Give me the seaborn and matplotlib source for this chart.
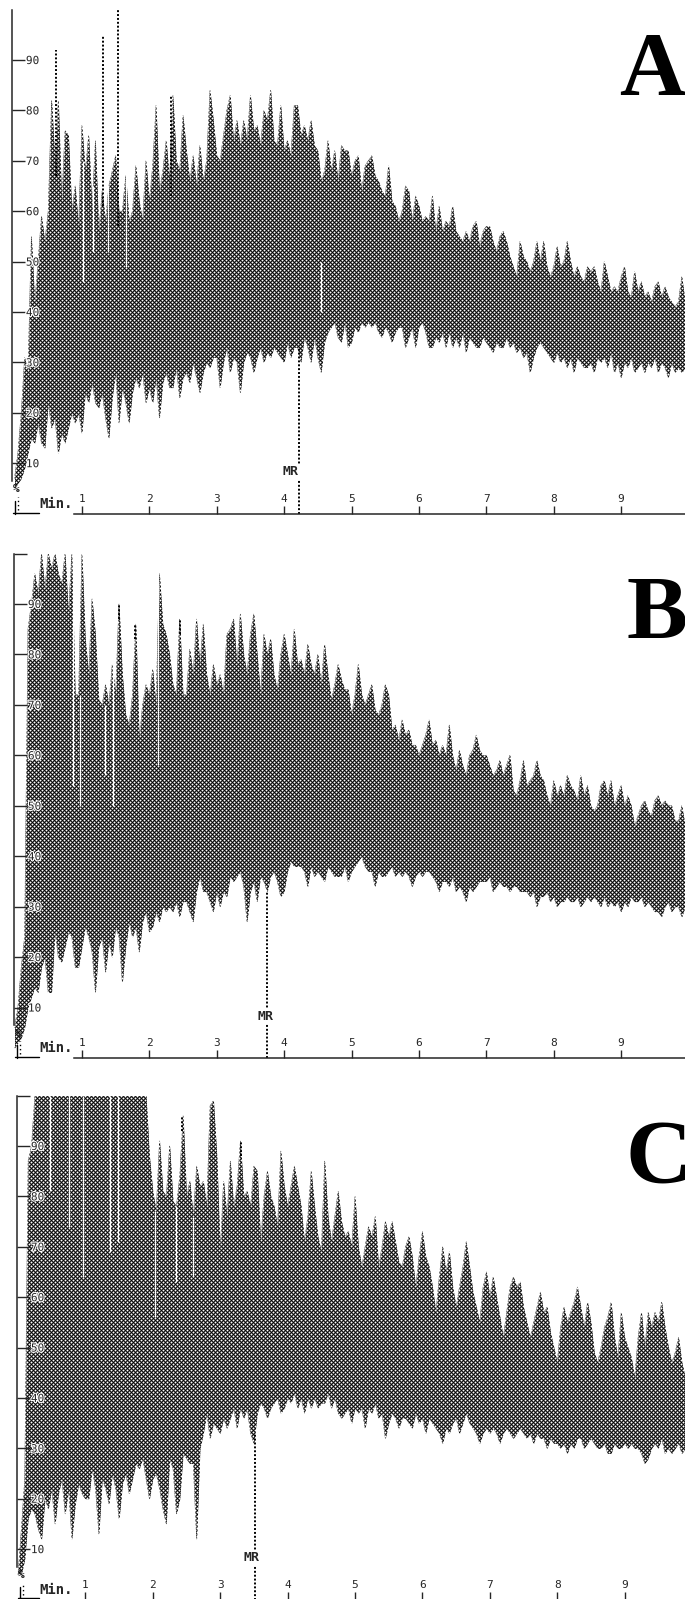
import numpy as np
import matplotlib
matplotlib.use("Agg")
import matplotlib.pyplot as plt
import matplotlib.patheffects as pe
import seaborn as sns

sns.set_style("white")

# ---- values, one value every 0.05 min, one row per minute ----
step = 0.05

upper_a = [
    7, 12, 20, 31, 28, 55, 42, 50, 59, 54, 60, 82, 70, 82, 62, 76, 75, 60, 65, 57,
    77, 68, 75, 60, 74, 56, 64, 58, 65, 68, 71, 60, 60, 67, 58, 60, 69, 62, 58, 70,
    62, 69, 81, 64, 68, 74, 66, 83, 70, 68, 79, 72, 66, 71, 65, 73, 66, 70, 84, 78,
    71, 70, 75, 80, 83, 74, 78, 73, 78, 74, 83, 76, 77, 73, 80, 78, 84, 74, 73, 81,
    72, 74, 71, 81, 81, 75, 77, 74, 78, 73, 72, 66, 68, 74, 68, 72, 66, 73, 72, 72,
    67, 70, 71, 64, 69, 70, 71, 67, 66, 64, 63, 69, 62, 61, 58, 60, 65, 64, 58, 63,
    61, 58, 59, 58, 63, 56, 61, 56, 58, 57, 61, 56, 55, 54, 56, 54, 57, 58, 53, 56,
    57, 57, 54, 52, 55, 56, 54, 51, 49, 47, 54, 51, 50, 48, 50, 54, 50, 54, 49, 47,
    49, 53, 49, 50, 54, 50, 47, 49, 47, 46, 49, 48, 49, 46, 44, 50, 47, 44, 45, 44,
    47, 49, 44, 43, 48, 44, 46, 43, 44, 42, 45, 46, 43, 45, 43, 42, 41, 42, 47, 42,
]
lower_a = [
    5, 6, 7, 9, 12, 15, 14, 18, 14, 13, 22, 17, 19, 12, 16, 14, 17, 20, 18, 20,
    16, 24, 22, 26, 22, 21, 24, 19, 15, 23, 28, 18, 25, 22, 18, 24, 27, 25, 28, 22,
    25, 22, 27, 19, 26, 28, 25, 25, 29, 23, 27, 28, 26, 30, 27, 24, 28, 30, 29, 31,
    31, 25, 30, 33, 28, 31, 30, 24, 30, 32, 31, 28, 31, 33, 30, 32, 31, 33, 32, 31,
    30, 34, 31, 33, 33, 30, 35, 33, 30, 35, 31, 28, 34, 36, 37, 38, 35, 34, 38, 33,
    34, 37, 36, 38, 37, 38, 37, 38, 36, 35, 37, 36, 34, 36, 37, 37, 33, 35, 37, 33,
    37, 38, 36, 33, 33, 35, 34, 36, 33, 36, 33, 35, 33, 36, 32, 35, 34, 33, 33, 35,
    34, 33, 32, 34, 33, 33, 35, 33, 34, 32, 33, 31, 32, 28, 31, 33, 34, 33, 32, 31,
    30, 32, 30, 31, 29, 31, 28, 31, 30, 29, 29, 30, 28, 31, 30, 31, 29, 32, 28, 30,
    27, 30, 29, 31, 28, 29, 30, 28, 30, 29, 31, 28, 30, 29, 27, 30, 28, 29, 28, 29,
]
upper_b = [
    6, 10, 18, 24, 85, 90, 96, 92, 100, 93, 100, 97, 100, 96, 94, 100, 88, 100, 72, 72,
    100, 83, 76, 91, 84, 71, 70, 74, 70, 78, 72, 90, 76, 68, 66, 72, 86, 63, 70, 74,
    72, 77, 70, 96, 86, 84, 80, 74, 72, 87, 72, 72, 81, 76, 87, 78, 86, 76, 72, 78,
    74, 76, 72, 84, 85, 87, 78, 88, 80, 76, 84, 88, 80, 72, 84, 80, 83, 76, 73, 80,
    84, 80, 76, 85, 78, 79, 76, 82, 78, 76, 80, 74, 82, 76, 71, 74, 78, 75, 73, 73,
    68, 72, 78, 72, 70, 72, 74, 69, 68, 70, 74, 72, 65, 66, 63, 67, 64, 65, 62, 62,
    60, 62, 64, 67, 62, 63, 60, 62, 60, 66, 60, 57, 61, 58, 56, 60, 61, 64, 61, 60,
    60, 58, 56, 57, 59, 56, 58, 60, 53, 52, 55, 59, 54, 55, 56, 59, 56, 55, 52, 50,
    55, 52, 54, 52, 56, 54, 53, 51, 56, 52, 54, 50, 49, 50, 54, 55, 52, 55, 50, 52,
    54, 50, 52, 50, 46, 48, 50, 51, 49, 48, 51, 52, 50, 51, 50, 50, 47, 47, 50, 46,
]
lower_b = [
    2, 3, 4, 6, 10, 12, 14, 13, 18, 20, 13, 13, 25, 20, 19, 22, 25, 24, 18, 18,
    22, 26, 24, 21, 13, 22, 24, 17, 23, 20, 26, 24, 15, 22, 27, 24, 26, 21, 27, 29,
    25, 26, 29, 27, 30, 29, 30, 29, 31, 28, 31, 31, 29, 27, 33, 36, 33, 33, 31, 29,
    33, 30, 33, 32, 36, 35, 36, 37, 34, 27, 33, 35, 31, 36, 35, 33, 36, 37, 35, 32,
    33, 37, 39, 38, 38, 38, 37, 34, 38, 36, 37, 36, 35, 38, 37, 36, 36, 36, 38, 35,
    37, 38, 39, 40, 38, 37, 37, 34, 37, 36, 36, 37, 38, 36, 37, 36, 37, 36, 34, 36,
    37, 36, 37, 37, 36, 35, 33, 35, 35, 34, 36, 33, 34, 33, 31, 34, 33, 34, 35, 35,
    35, 36, 33, 34, 35, 34, 34, 33, 34, 34, 33, 33, 33, 32, 33, 30, 32, 32, 33, 31,
    32, 30, 31, 31, 32, 31, 31, 32, 30, 31, 32, 31, 32, 31, 30, 32, 30, 31, 30, 31,
    29, 31, 30, 32, 31, 31, 32, 30, 31, 30, 29, 29, 28, 30, 31, 29, 30, 30, 28, 30,
]
upper_c = [
    5, 14, 24, 87, 90, 100, 100, 100, 100, 100, 100, 100, 100, 100, 100, 100, 100, 100, 100, 100,
    100, 100, 100, 100, 100, 100, 100, 100, 100, 100, 100, 100, 100, 100, 100, 100, 100, 100, 100, 88,
    81, 77, 91, 81, 80, 90, 79, 78, 84, 96, 80, 83, 76, 86, 82, 83, 78, 98, 99, 88,
    69, 83, 76, 87, 78, 82, 91, 80, 81, 78, 86, 85, 71, 80, 85, 80, 78, 74, 89, 82,
    78, 82, 86, 82, 78, 71, 76, 85, 78, 72, 69, 87, 76, 71, 76, 81, 75, 72, 73, 70,
    80, 70, 66, 70, 74, 72, 76, 66, 70, 75, 72, 75, 71, 67, 66, 70, 72, 68, 62, 68,
    73, 68, 66, 62, 57, 64, 70, 65, 69, 62, 58, 62, 66, 71, 66, 61, 58, 55, 62, 65,
    60, 64, 60, 56, 52, 57, 62, 64, 62, 63, 58, 55, 52, 55, 58, 61, 57, 58, 53, 50,
    47, 54, 58, 55, 57, 59, 62, 58, 54, 59, 55, 49, 47, 50, 54, 56, 59, 52, 48, 57,
    52, 50, 48, 44, 52, 57, 50, 57, 54, 57, 55, 59, 54, 50, 47, 49, 52, 47, 44, 45,
]
lower_c = [
    5, 5, 8, 16, 18, 17, 14, 12, 20, 18, 22, 15, 21, 24, 17, 22, 12, 19, 23, 21,
    20, 20, 26, 22, 13, 24, 22, 19, 25, 22, 16, 23, 25, 21, 24, 27, 26, 28, 24, 20,
    24, 25, 22, 18, 15, 28, 26, 17, 20, 29, 28, 27, 27, 12, 30, 33, 37, 32, 35, 34,
    33, 36, 34, 36, 38, 34, 38, 36, 38, 33, 31, 37, 39, 38, 36, 38, 39, 40, 37, 38,
    40, 39, 41, 38, 40, 37, 40, 38, 40, 38, 39, 39, 41, 38, 40, 37, 36, 37, 38, 35,
    38, 37, 38, 34, 38, 37, 39, 36, 37, 32, 35, 37, 36, 34, 36, 36, 35, 34, 37, 35,
    36, 33, 36, 35, 34, 33, 31, 34, 33, 35, 36, 33, 35, 37, 35, 34, 33, 31, 33, 34,
    33, 34, 33, 31, 33, 34, 33, 32, 33, 34, 33, 32, 33, 31, 33, 32, 32, 30, 32, 31,
    31, 30, 31, 29, 31, 30, 32, 32, 30, 31, 32, 31, 30, 30, 31, 29, 29, 31, 30, 30,
    31, 30, 31, 30, 30, 29, 27, 28, 30, 31, 30, 32, 29, 30, 29, 30, 31, 29, 30, 29,
]

# thin single spikes above the band (time, top)
spikes_a = [(0.62, 92), (1.31, 95), (1.53, 100), (2.32, 83)]
spikes_b = [(1.79, 86), (1.55, 90), (2.46, 87)]
spikes_c = [(2.43, 96), (3.31, 91)]

# white slits cutting into the band (time, from, to)
slits_a = [(1.39, 52, 65), (1.66, 49, 67), (1.01, 46, 70), (1.16, 52, 65), (4.55, 40, 50)]
slits_b = [(0.97, 50, 72), (1.46, 50, 78), (2.13, 58, 96), (1.34, 56, 70), (0.87, 54, 100)]
slits_c = [(0.47, 81, 100), (0.75, 74, 100), (0.97, 64, 100), (1.37, 69, 100),
           (1.49, 71, 100), (2.03, 56, 77), (2.34, 63, 78), (2.59, 64, 76)]

mr_times = [4.22, 3.74, 3.52]
mr_tops = [33, 33, 33]
mr_label_times = [4.09, 3.73, 3.47]
panel_names = ["A", "B", "C"]
minute_ticks = [1, 2, 3, 4, 5, 6, 7, 8, 9]
percent_ticks = [10, 20, 30, 40, 50, 60, 70, 80, 90]

W, H = 685, 1599
fig = plt.figure(figsize=(W / 100, H / 100), dpi=100)

# pixel boxes: spine x, x of t=0, y of 100 %, y of 0 %
boxes = [(12, 14.5, 9.6, 513.6), (14, 14.5, 553.5, 1058), (17, 18, 1095.6, 1599.5)]
letter_pos = [(619, 95), (626, 639), (625, 1183)]
uppers = [upper_a, upper_b, upper_c]
lowers = [lower_a, lower_b, lower_c]
spikes = [spikes_a, spikes_b, spikes_c]
slits = [slits_a, slits_b, slits_c]
px_min = 67.4

for i in range(3):
    sx, x0, top, bot = boxes[i]
    ax = fig.add_axes([sx / W, 1 - bot / H, (W - sx) / W, (bot - top) / H])
    px_val = (bot - top) / 100
    xmin, xmax = (sx - x0) / px_min, (W - x0) / px_min
    t = np.arange(len(uppers[i])) * step

    # the trace band
    ax.fill_between(t, lowers[i], uppers[i], color="black", lw=0, zorder=1)
    sns.lineplot(x=t, y=uppers[i], ax=ax, color="black", lw=0.4, estimator=None, zorder=1.1)
    sns.lineplot(x=t, y=lowers[i], ax=ax, color="black", lw=0.4, estimator=None, zorder=1.1)
    ax.set(xlabel="", ylabel="")

    for sl_t, sl_lo, sl_hi in slits[i]:
        ax.vlines(sl_t, sl_lo, sl_hi, color="white", lw=0.9, zorder=1.3)

    # halftone of the print, white holes on a 4 px staggered grid
    cols = (np.arange(sx, W + 4, 4) - x0) / px_min
    rows = (bot - np.arange(np.ceil(top), np.floor(bot), 2)) / px_val
    gx, gy = np.meshgrid(cols, rows)
    gx[1::2] += 2 / px_min
    ax.scatter(gx.ravel(), gy.ravel(), s=2.0, color="white", linewidths=0, zorder=2)

    # thin spikes and the MR line stay dotted on top of the halftone
    for sp_t, sp_top in spikes[i]:
        sp_base = uppers[i][int(round(sp_t / step))]
        ax.vlines(sp_t, sp_base - 3, sp_top, color="black", lw=1.4, linestyles=(0, (1, 1)), zorder=2.1)
    ax.vlines(mr_times[i], 0, mr_tops[i], color="black", lw=1.4, linestyles=(0, (1, 1)), zorder=2.1)

    ax.set_xlim(xmin, xmax)
    ax.set_ylim(0, 100)
    ax.set_axisbelow(False)
    for side in ["top", "right"]:
        ax.spines[side].set_visible(False)
    ax.patch.set_alpha(0)
    ax.spines["left"].set_linewidth(1.1)
    ax.spines["left"].set_bounds(6.5, 100)
    ax.spines["bottom"].set_linewidth(1.1)
    ax.spines["bottom"].set_bounds((74 - x0) / px_min, xmax)

    # y axis: ticks point inwards, labels sit to the right of them
    yt = percent_ticks + ([100] if i > 0 else [])
    ax.set_yticks(yt)
    ax.set_yticklabels([str(v) if v < 100 else "" for v in yt])
    ax.tick_params(axis="y", direction="in", length=9, width=1, pad=-10,
                   labelsize=8, left=True, labelleft=True)
    for lab in ax.get_yticklabels():
        lab.set_ha("left")
        lab.set_family("DejaVu Sans Mono")
        lab.set_path_effects([pe.withStroke(linewidth=1.6, foreground="white")])

    ax.set_xticks(minute_ticks)
    ax.set_xticklabels([str(v) for v in minute_ticks])
    ax.tick_params(axis="x", direction="in", length=6, width=1, pad=-7,
                   labelsize=8, bottom=True, labelbottom=True)
    for lab in ax.get_xticklabels():
        lab.set_va("bottom")
        lab.set_family("DejaVu Sans Mono")

    # little pieces at the bottom left corner
    ax.plot([xmin + 0.02, (39 - x0) / px_min], [0.2, 0.2], color="black", lw=1, clip_on=False, zorder=3)
    ax.plot([xmin + 0.04, xmin + 0.04], [0, 2.5], color="black", lw=1, clip_on=False, zorder=3)
    ax.plot([xmin + 0.09, xmin + 0.09], [0.8, 3.3], color="black", lw=1, ls=(0, (1, 2)), zorder=3)
    ax.text(xmin + 0.07, 4.8, "%", family="DejaVu Sans Mono", weight="bold", fontsize=8,
            ha="center", va="center", zorder=3)
    ax.text((39 - x0) / px_min, 1.9, "Min.", family="DejaVu Sans Mono", weight="bold",
            fontsize=10, ha="left", va="center", zorder=3)
    ax.text(mr_label_times[i], 8.3, "MR", family="DejaVu Sans Mono", weight="bold",
            fontsize=9.5, ha="center", va="center", zorder=3,
            bbox=dict(facecolor="white", edgecolor="none", pad=1))

    # panel letter, runs off the right edge like the scan
    lx, ly = letter_pos[i]
    fig.text(lx / W, 1 - ly / H, panel_names[i], family="Liberation Serif", weight="bold",
             fontsize=66, ha="left", va="baseline", color="black")

fig.savefig("out.png", dpi=100)
